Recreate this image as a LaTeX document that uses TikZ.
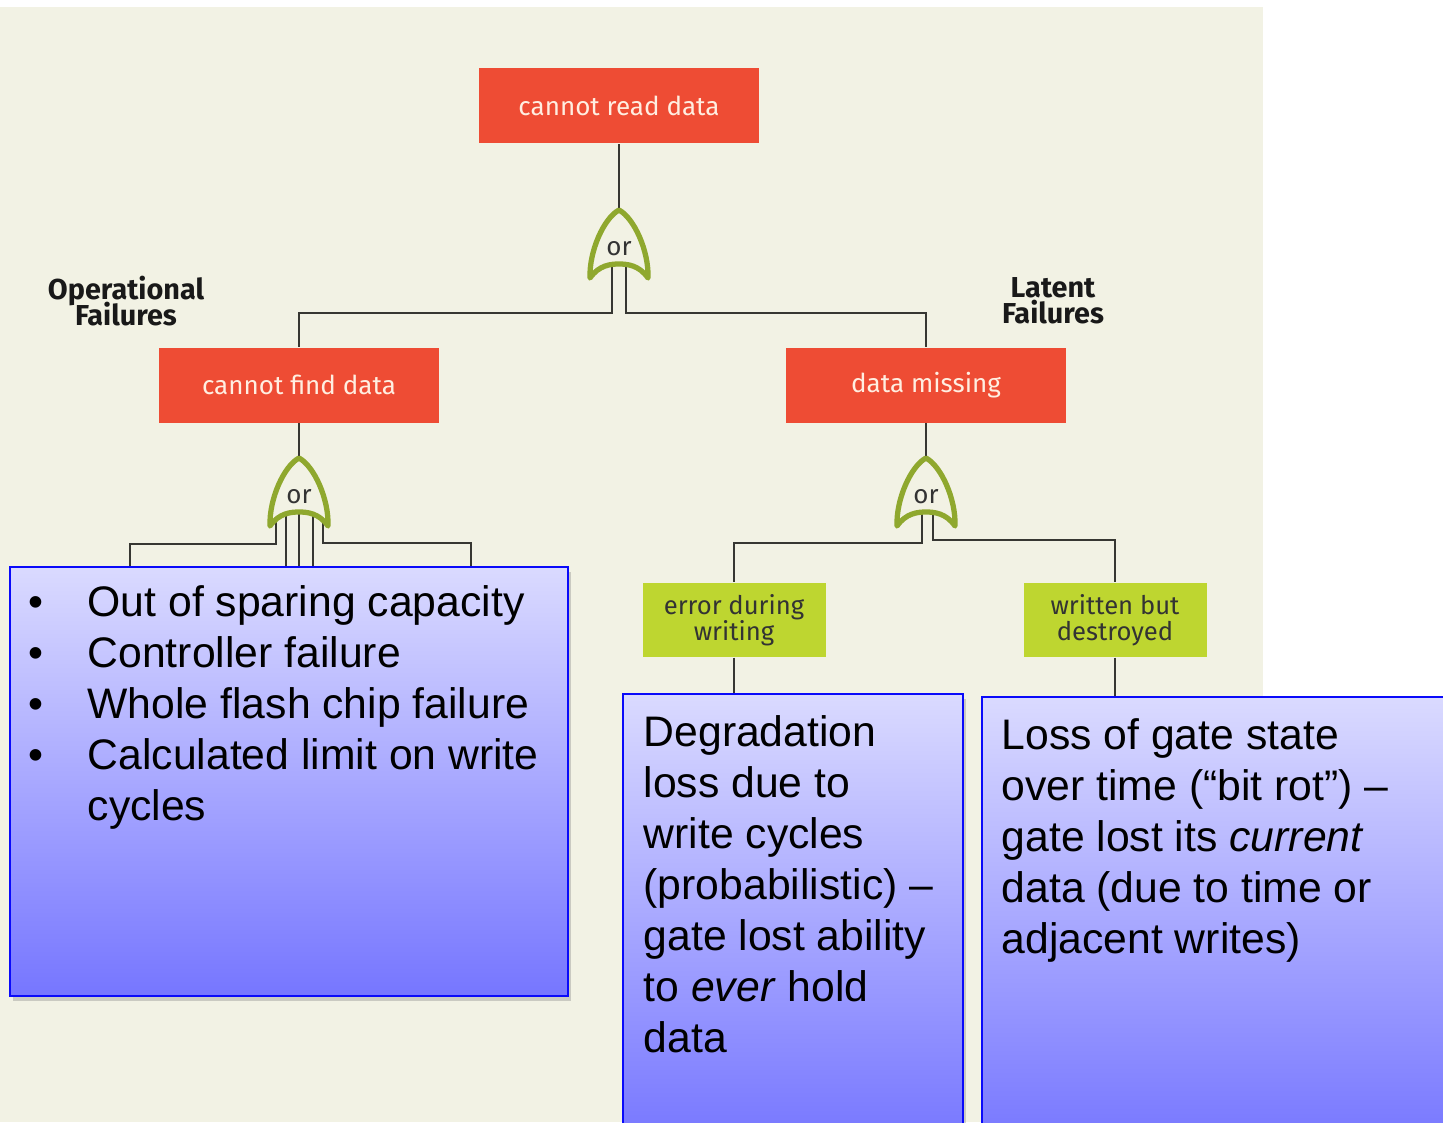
\documentclass[tikz,border=0pt]{standalone}
\usepackage{fontspec}
\setmainfont{Liberation Sans}
\newfontfamily\chartfont{Fira Sans}
\usepackage{tikz}
\usetikzlibrary{positioning,calc,shadows,backgrounds}

\definecolor{paper}{RGB}{242,242,228}
\definecolor{failred}{RGB}{238,76,52}
\definecolor{redink}{RGB}{255,238,225}
\definecolor{leafgreen}{RGB}{190,214,48}
\definecolor{gateolive}{RGB}{143,168,46}
\definecolor{wiregray}{RGB}{55,55,50}
\definecolor{notetop}{RGB}{218,218,255}
\definecolor{notebot}{RGB}{118,118,255}
\definecolor{noteedge}{RGB}{10,10,250}

% tight two-line captions
\newcommand\tagfont{\chartfont\bfseries\fontsize{8.2}{7.4}\selectfont\setlength{\lineskiplimit}{-5pt}}

\begin{document}
\begin{tikzpicture}
	[x=0.1mm,y=-0.1mm,
	wire/.style={draw=wiregray,line width=0.6pt},
	redbox/.style={fill=failred,text=redink,minimum width=28mm,minimum height=7.5mm,
		font=\chartfont\fontsize{7.4}{8}\selectfont},
	leafbox/.style={fill=leafgreen,text=black!80,minimum width=18.3mm,minimum height=7.4mm,
		align=center,inner sep=1pt,font=\chartfont\fontsize{7.3}{7.4}\selectfont},
	tag/.style={align=center,inner sep=0pt,text=black!90,font=\tagfont},
	note/.style={anchor=north west,draw=noteedge,line width=0.6pt,top color=notetop,bottom color=notebot,
		drop shadow={shadow xshift=0.3mm,shadow yshift=-0.5mm,opacity=0.35}},
	notetext/.style={anchor=north west,inner sep=0pt,align=left,font=\fontsize{12.15}{14.5}\selectfont},
	orgate/.pic={
		\coordinate (-c) at (0,0);
		\coordinate (-apex) at (0,-37);
		\filldraw[draw=gateolive,fill=paper,line width=1.5pt,line join=round]
			(-29,31) .. controls (-30,4) and (-15,-29) .. (0,-37)
			.. controls (15,-29) and (30,4) .. (29,31)
			.. controls (20,18) and (8,17) .. (0,17)
			.. controls (-8,17) and (-20,18) .. (-29,31) -- cycle;
		\node[text=black!80,font=\chartfont\fontsize{7.4}{8}\selectfont] (-lbl) at (0,2) {or};
	}]
	\useasboundingbox (0,0) rectangle (1443,1122);
	%%%%% EVENTS
	\node[redbox] (read) at (619,106) {cannot read data};
	\node[redbox] (find) at (299,385) {cannot find data};
	\node[redbox] (miss) at (926,385) {data missing};
	\node[leafbox] (err) at (734,620) {error during\\writing};
	\node[leafbox] (wbd) at (1115,620) {written but\\destroyed};
	\node[tag] (optag) at (126,301) {Operational\\Failures};
	\node[tag] (lattag) at (1053,301) {Latent\\Failures};
	%%%%% GATES
	\pic (g0) at (619,247) {orgate};
	\pic (g1) at (299,495) {orgate};
	\pic (g2) at (926,495) {orgate};
	%%%%% NOTES
	\node[note,minimum width=55.8mm,minimum height=42.9mm] (ops) at (9,566) {};
	\node[note,minimum width=34mm,minimum height=45mm] (degr) at (622,693) {};
	\node[note,minimum width=48mm,minimum height=45mm] (rot) at (981,696) {};
	\node[notetext] (opstext) at (28,585) {%
		\makebox[5.9mm][l]{\textbullet}Out of sparing capacity\\
		\makebox[5.9mm][l]{\textbullet}Controller failure\\
		\makebox[5.9mm][l]{\textbullet}Whole flash chip failure\\
		\makebox[5.9mm][l]{\textbullet}Calculated limit on write\\
		\hspace*{5.9mm}cycles};
	\node[notetext] (degrtext) at (643,715) {Degradation\\loss due to\\write cycles\\(probabilistic) –\\gate lost ability\\to \emph{ever} hold\\data};
	\node[notetext] (rottext) at (1001,718) {Loss of gate state\\over time (“bit rot”) –\\gate lost its \emph{current}\\data (due to time or\\adjacent writes)};
	\coordinate (opsl) at (130,566);
	\coordinate (opsr) at (471,566);
	%%%%% WIRES
	\begin{scope}[on background layer]
	\fill[white] (0,0) rectangle (1443,1122);
	\fill[paper] (0,7) rectangle (1263,1122);
	\draw[wire] (read.south) -- (g0-apex);
	\draw[wire] ([shift={(-7,0)}]g0-c) -- ++(0,66) -| (find.north);
	\draw[wire] ([shift={(7,0)}]g0-c) -- ++(0,66) -| (miss.north);
	\draw[wire] (find.south) -- (g1-apex);
	\draw[wire] (miss.south) -- (g2-apex);
	\draw[wire] ([shift={(-23,0)}]g1-c) -- ++(0,49) -| (opsl);
	\foreach \dx in {-13,0,14}
	\draw[wire] ([shift={(\dx,0)}]g1-c) -- ++(0,71);
	\draw[wire] ([shift={(24,0)}]g1-c) -- ++(0,48) -| (opsr);
	\draw[wire] ([shift={(-4,0)}]g2-c) -- ++(0,48) -| (err.north);
	\draw[wire] ([shift={(7,0)}]g2-c) -- ++(0,45) -| (wbd.north);
	\draw[wire] (err.south) -- (err.south |- degr.north);
	\draw[wire] (wbd.south) -- (wbd.south |- rot.north);
	\end{scope}
\end{tikzpicture}
\end{document}
